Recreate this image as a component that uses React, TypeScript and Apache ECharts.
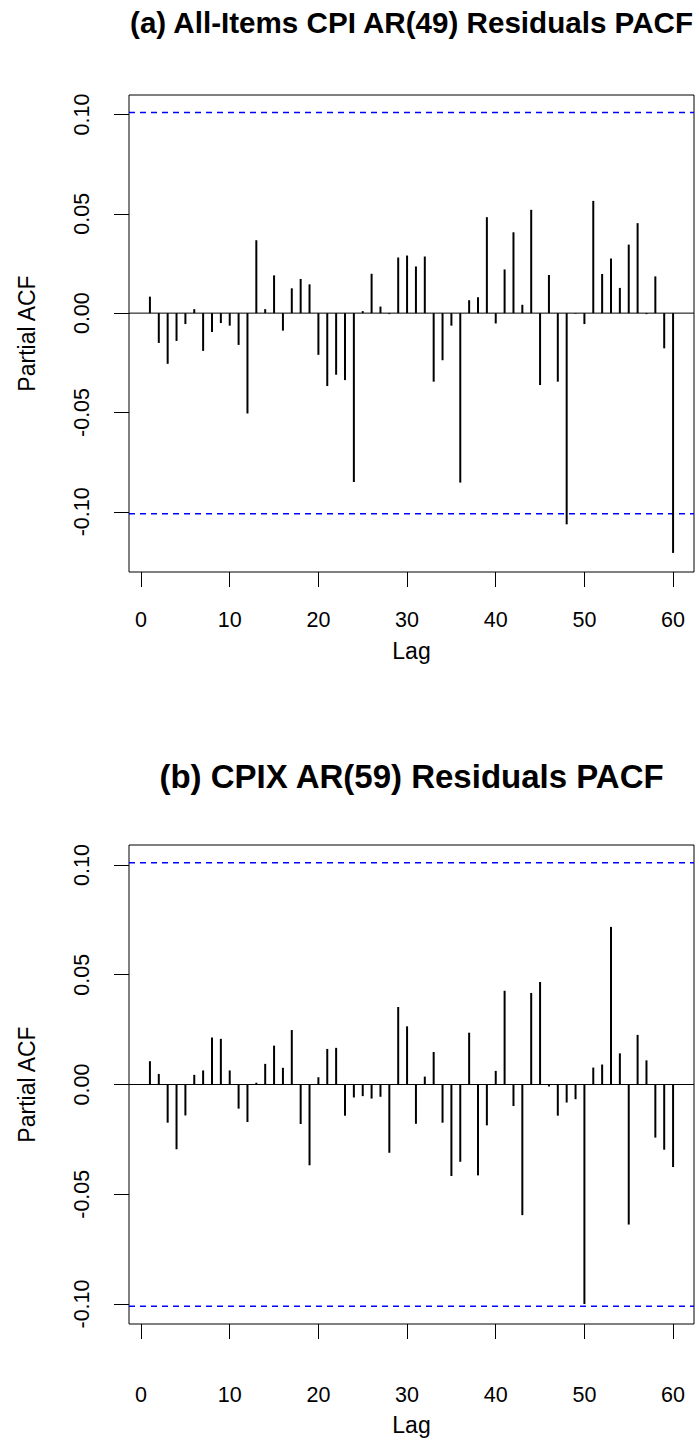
import React, { useEffect, useRef } from "react";
import * as echarts from "echarts";

const lags = [
  1, 2, 3, 4, 5, 6, 7, 8, 9, 10, 11, 12, 13, 14, 15, 16, 17, 18, 19, 20,
  21, 22, 23, 24, 25, 26, 27, 28, 29, 30, 31, 32, 33, 34, 35, 36, 37, 38, 39, 40,
  41, 42, 43, 44, 45, 46, 47, 48, 49, 50, 51, 52, 53, 54, 55, 56, 57, 58, 59, 60,
];

const pacfA = [
  0.0083, -0.015, -0.0255, -0.014, -0.0055, 0.002, -0.019, -0.0095, -0.005, -0.0063,
  -0.016, -0.0505, 0.0367, 0.002, 0.019, -0.0088, 0.0125, 0.0172, 0.0145, -0.021,
  -0.0367, -0.031, -0.0337, -0.085, 0.001, 0.0198, 0.0033, -0.0005, 0.028, 0.029,
  0.0235, 0.0285, -0.0345, -0.0237, -0.0063, -0.0853, 0.0065, 0.008, 0.0483, -0.0052,
  0.022, 0.0407, 0.0042, 0.052, -0.0362, 0.0192, -0.0345, -0.1063, -0.0003, -0.0055,
  0.0565, 0.0197, 0.0275, 0.0127, 0.0345, 0.0453, -0.0005, 0.0185, -0.0177, -0.1207,
];

const pacfB = [
  0.0106, 0.0048, -0.0174, -0.0295, -0.0141, 0.0044, 0.0064, 0.0214, 0.0208, 0.0064,
  -0.011, -0.0171, 0.0008, 0.0094, 0.0177, 0.0076, 0.0248, -0.018, -0.0368, 0.0033,
  0.0162, 0.0167, -0.0142, -0.0059, -0.0053, -0.0064, -0.0056, -0.0311, 0.0353, 0.0265,
  -0.0179, 0.0036, 0.0148, -0.0174, -0.0417, -0.0352, 0.0236, -0.0414, -0.0186, 0.0062,
  0.0427, -0.0098, -0.0595, 0.0417, 0.0467, -0.0009, -0.0142, -0.0082, -0.0067, -0.1,
  0.0077, 0.0091, 0.0718, 0.0142, -0.0638, 0.0226, 0.011, -0.0242, -0.0297, -0.0376,
];

const ciA = 0.101;
const ciB = 0.101;

const xTicks = [0, 10, 20, 30, 40, 50, 60];
const yTicks = [-0.1, -0.05, 0, 0.05, 0.1];

const titleA = "(a) All-Items CPI AR(49) Residuals PACF";
const titleB = "(b) CPIX AR(59) Residuals PACF";
const xName = "Lag";
const yName = "Partial ACF";

const FONT = "'Liberation Sans', Arial, Helvetica, sans-serif";

const X_MIN = -1.36;
const X_MAX = 62.36;

function buildOption() {
  const panels = [
    { values: pacfA, ci: ciA, yMin: -0.1303, yMax: 0.1098, top: 95, height: 477, labelMargin: 37, nameGap: 67 },
    { values: pacfB, ci: ciB, yMin: -0.1091, yMax: 0.1091, top: 845, height: 479, labelMargin: 60, nameGap: 89 },
  ];

  const grid: any[] = [];
  const xAxis: any[] = [];
  const yAxis: any[] = [];
  const series: any[] = [];

  panels.forEach((p, i) => {
    grid.push({
      left: 129,
      width: 565,
      top: p.top,
      height: p.height,
      show: true,
      borderColor: "#000",
      borderWidth: 1,
      backgroundColor: "transparent",
      containLabel: false,
    });
    xAxis.push({
      type: "value",
      gridIndex: i,
      min: X_MIN,
      max: X_MAX,
      axisLine: { show: false, onZero: false },
      splitLine: { show: false },
      axisTick: {
        show: true,
        inside: false,
        length: 15,
        customValues: xTicks,
        lineStyle: { color: "#000", width: 1 },
      },
      axisLabel: {
        customValues: xTicks,
        margin: p.labelMargin,
        fontSize: 21.5,
        color: "#000",
        fontFamily: FONT,
        formatter: (v: number) => String(v),
      },
      name: xName,
      nameLocation: "middle",
      nameGap: p.nameGap,
      nameTextStyle: { fontSize: 23, color: "#000", fontFamily: FONT },
    });
    yAxis.push({
      type: "value",
      gridIndex: i,
      min: p.yMin,
      max: p.yMax,
      axisLine: { show: false, onZero: false },
      splitLine: { show: false },
      axisTick: {
        show: true,
        inside: false,
        length: 15,
        customValues: yTicks,
        lineStyle: { color: "#000", width: 1 },
      },
      axisLabel: {
        customValues: yTicks,
        rotate: 90,
        margin: 36,
        fontSize: 21.5,
        color: "#000",
        fontFamily: FONT,
        formatter: (v: number) => v.toFixed(2),
      },
      name: yName,
      nameLocation: "middle",
      nameRotate: 90,
      nameGap: 91,
      nameTextStyle: { fontSize: 23, color: "#000", fontFamily: FONT },
    });

    // zero line
    series.push({
      type: "line",
      xAxisIndex: i,
      yAxisIndex: i,
      data: [
        [X_MIN, 0],
        [X_MAX, 0],
      ],
      symbol: "none",
      lineStyle: { color: "#000", width: 1 },
      silent: true,
      z: 2,
    });
    // confidence bounds
    [p.ci, -p.ci].forEach((c) => {
      series.push({
        type: "line",
        xAxisIndex: i,
        yAxisIndex: i,
        data: [
          [X_MIN, c],
          [X_MAX, c],
        ],
        symbol: "none",
        lineStyle: { color: "#0000ff", width: 1.5, type: [6, 5] },
        silent: true,
        z: 3,
      });
    });
    // pacf spikes
    series.push({
      type: "custom",
      xAxisIndex: i,
      yAxisIndex: i,
      data: lags.map((l, k) => [l, p.values[k]]),
      renderItem: (params: any, api: any) => {
        const x = api.value(0);
        const y = api.value(1);
        const p0 = api.coord([x, 0]);
        const p1 = api.coord([x, y]);
        return {
          type: "line",
          shape: { x1: p0[0], y1: p0[1], x2: p1[0], y2: p1[1] },
          style: { stroke: "#000", lineWidth: 2 },
        };
      },
      z: 4,
    });
  });

  return {
    animation: false,
    backgroundColor: "#fff",
    grid,
    xAxis,
    yAxis,
    series,
    graphic: [
      {
        type: "text",
        x: 411.5,
        y: 22,
        style: {
          text: titleA,
          fontSize: 29.6,
          fontWeight: "bold",
          fontFamily: FONT,
          fill: "#000",
          textAlign: "center",
          textVerticalAlign: "middle",
        },
      },
      {
        type: "text",
        x: 411.5,
        y: 776,
        style: {
          text: titleB,
          fontSize: 33,
          fontWeight: "bold",
          fontFamily: FONT,
          fill: "#000",
          textAlign: "center",
          textVerticalAlign: "middle",
        },
      },
    ],
  };
}

export default function App() {
  const ref = useRef<HTMLDivElement>(null);
  useEffect(() => {
    if (!ref.current) return;
    const chart = echarts.init(ref.current, null, { renderer: "svg" });
    chart.setOption(buildOption() as any);
    return () => chart.dispose();
  }, []);
  return (
    <div
      ref={ref}
      style={{ position: "absolute", left: 0, top: 0, width: 699, height: 1446, background: "#fff" }}
    />
  );
}
